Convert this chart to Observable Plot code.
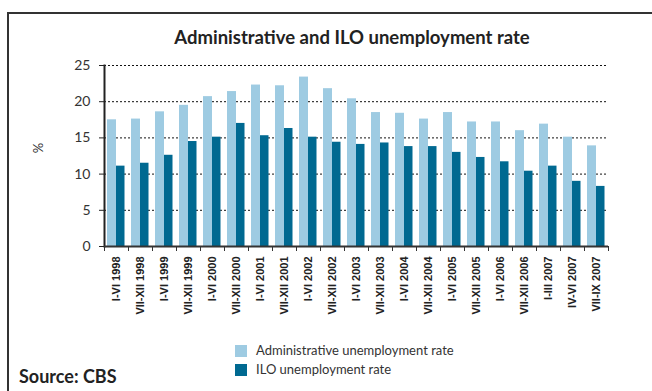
<!DOCTYPE html>
<html>
<head>
<meta charset="utf-8">
<script src="https://cdn.jsdelivr.net/npm/d3@7"></script>
<script src="https://cdn.jsdelivr.net/npm/@observablehq/plot@0.6"></script>
<style>
  html, body { margin: 0; padding: 0; background: #fff; }
  #wrap { position: relative; width: 652px; height: 391px; overflow: hidden; font-family: Lato, "Open Sans", sans-serif; color: #222; }
  #frame { position: absolute; left: 7px; top: 12px; width: 700px; height: 400px; border-left: 2.5px solid #333; border-top: 2px solid #333; }
  #title { position: absolute; left: 52px; width: 600px; top: 26px; text-align: center; font-weight: bold; font-size: 18.5px; line-height: 1.2; color: #222; }
  #chart { position: absolute; left: 0; top: 50px; }
  #ylab { position: absolute; left: 33px; top: 140px; font-size: 13px; transform: rotate(-90deg); transform-origin: center; color: #333; }
  .leg { position: absolute; left: 235px; font-size: 13px; line-height: 1.2; display: flex; align-items: center; color: #333; }
  .leg span.sw { display: inline-block; width: 12px; height: 12px; margin-right: 9px; }
  #source { position: absolute; left: 19px; top: 366px; font-weight: bold; font-size: 18px; line-height: 1.2; color: #222; }
</style>
</head>
<body>
<div id="wrap">
  <div id="frame"></div>
  <div id="title">Administrative and ILO unemployment rate</div>
  <div id="ylab">%</div>
  <div id="chart"></div>
  <div id="legend"></div>
  <div id="source">Source: CBS</div>
</div>
<script>
const categories = [
  "I-VI 1998", "VII-XII 1998", "I-VI 1999", "VII-XII 1999", "I-VI 2000", "VII-XII 2000",
  "I-VI 2001", "VII-XII 2001", "I-VI 2002", "VII-XII 2002", "I-VI 2003", "VII-XII 2003",
  "I-VI 2004", "VII-XII 2004", "I-VI 2005", "VII-XII 2005", "I-VI 2006", "VII-XII 2006",
  "I-III 2007", "IV-VI 2007", "VII-IX 2007"
];
const adminRate = [17.5, 17.6, 18.6, 19.5, 20.7, 21.4, 22.3, 22.2, 23.4, 21.8, 20.4, 18.5,
  18.4, 17.6, 18.5, 17.2, 17.2, 16.0, 16.9, 15.1, 13.9];
const iloRate = [11.1, 11.5, 12.6, 14.5, 15.1, 17.0, 15.3, 16.3, 15.1, 14.4, 14.1, 14.3,
  13.8, 13.8, 13.0, 12.3, 11.7, 10.4, 11.1, 9.0, 8.3];
const seriesNames = ["Administrative unemployment rate", "ILO unemployment rate"];
const seriesColors = ["#9ecbe2", "#006991"];
const yTicks = [0, 5, 10, 15, 20, 25];

const adminData = categories.map((c, i) => ({cat: c, value: adminRate[i]}));
const iloData = categories.map((c, i) => ({cat: c, value: iloRate[i]}));

const chart = Plot.plot({
  width: 652,
  height: 270,
  marginLeft: 104,
  marginRight: 44,
  marginTop: 15,
  marginBottom: 74,
  x: {type: "band", domain: categories, padding: 0, axis: null},
  y: {domain: [0, 25], axis: null},
  marks: [
    Plot.ruleY(yTicks.filter(d => d > 0), {stroke: "#111", strokeDasharray: "2,2", strokeWidth: 1}),
    Plot.barY(adminData, {x: "cat", y: "value", fill: seriesColors[0], insetLeft: 3, insetRight: 12}),
    Plot.barY(iloData, {x: "cat", y: "value", fill: seriesColors[1], insetLeft: 12, insetRight: 3.5}),
    Plot.axisY({ticks: yTicks, tickSize: 5, tickPadding: 9, fontSize: 14, fontFamily: "Lato", label: null, stroke: "#222", color: "#333"}),
    Plot.frame({anchor: "left", stroke: "#222", strokeWidth: 2}),
    Plot.ruleY([0], {stroke: "#333", strokeWidth: 2}),
    Plot.axisX({tickSize: 0, tickPadding: 10, tickRotate: -90, fontSize: 11, fontWeight: "bold", fontFamily: "Liberation Sans, Arial", label: null, color: "#222"}),
    Plot.axisX(categories, {tickSize: 5, dx: -12, tickFormat: () => "", label: null, stroke: "#333"}),
    Plot.axisX(categories.slice(-1), {tickSize: 5, dx: 12, tickFormat: () => "", label: null, stroke: "#333"})
  ]
});
document.getElementById("chart").appendChild(chart);

const legend = document.getElementById("legend");
seriesNames.forEach((name, i) => {
  const row = document.createElement("div");
  row.className = "leg";
  row.style.top = (343 + i * 19) + "px";
  const sw = document.createElement("span");
  sw.className = "sw";
  sw.style.background = seriesColors[i];
  row.appendChild(sw);
  row.appendChild(document.createTextNode(name));
  legend.appendChild(row);
});
</script>
</body>
</html>
